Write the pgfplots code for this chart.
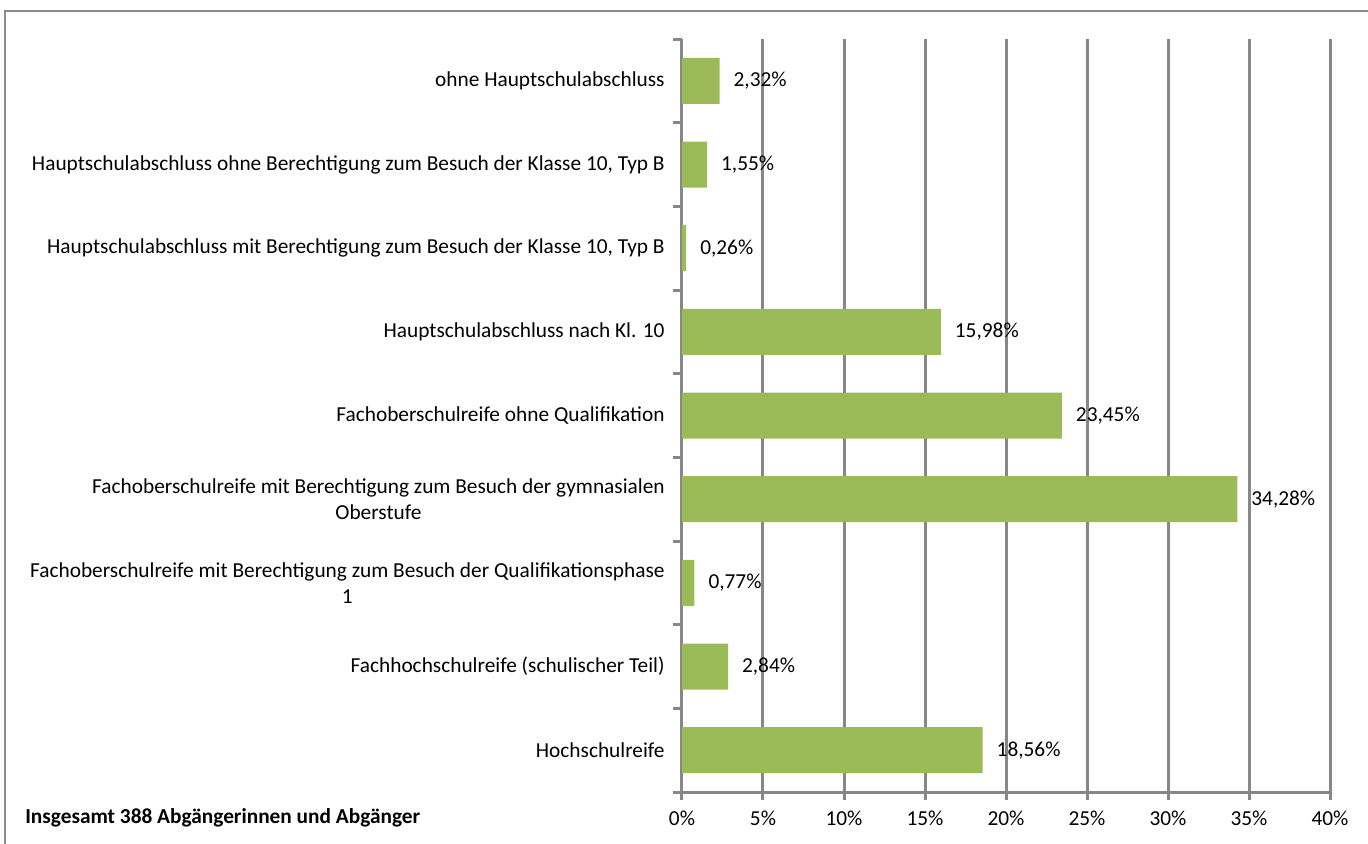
\documentclass[border=0pt]{standalone}
\usepackage{pgfplots}
\pgfplotsset{compat=1.18}
\usepackage{fontspec}
\setmainfont{Carlito}
\definecolor{bargreen}{HTML}{9BBB59}
\definecolor{gridgray}{HTML}{878787}
\definecolor{framegray}{HTML}{8C8C8C}
\newcommand{\lbl}{\fontsize{16}{19.5}\selectfont}
\begin{document}
\begin{tikzpicture}
\useasboundingbox (0,0) rectangle (1026pt,632.25pt);
\clip (0,0) rectangle (1026pt,632.25pt);
\draw[framegray, line width=1.1pt] (3.75pt,-20pt) -- (3.75pt,624pt) -- (1060pt,624pt);
\begin{axis}[
  at={(511.5pt,38.25pt)}, anchor=south west,
  scale only axis, width=486pt, height=564.75pt,
  xbar, bar width=34.5pt,
  xmin=0, xmax=40, ymin=-0.5, ymax=8.5,
  xtick={0,5,...,40},
  xticklabel={\pgfmathprintnumber{\tick}\%},
  /pgf/number format/assume math mode=true,
  ytick={0,...,8},
  yticklabels={Hochschulreife,
    Fachhochschulreife (schulischer Teil),
    {Fachoberschulreife mit Berechtigung zum Besuch der Qualifikationsphase\\1},
    {Fachoberschulreife mit Berechtigung zum Besuch der gymnasialen\\Oberstufe},
    Fachoberschulreife ohne Qualifikation,
    Hauptschulabschluss nach Kl. 10,
    {Hauptschulabschluss mit Berechtigung zum Besuch der Klasse 10, Typ B},
    {Hauptschulabschluss ohne Berechtigung zum Besuch der Klasse 10, Typ B},
    ohne Hauptschulabschluss},
  minor ytick={-0.5,0.5,...,8.5},
  axis x line*=bottom, axis y line*=left,
  axis line style={gridgray, line width=2.25pt},
  tick align=outside,
  major tick length=6pt, minor tick length=6.75pt,
  every tick/.style={gridgray, line width=2.25pt},
  major y tick style={draw=none},
  xmajorgrids,
  major x grid style={gridgray, line width=2.25pt},
  tick label style={font=\lbl},
  yticklabel style={align=center, xshift=-3.5pt},
  xticklabel style={yshift=-5pt},
  nodes near coords={\pgfmathprintnumber[fixed,fixed zerofill,precision=2,use comma]{\pgfplotspointmeta}\%},
  point meta=x,
  nodes near coords style={font=\lbl, anchor=west, xshift=7pt, text=black},
]
\addplot[fill=bargreen, draw=none] coordinates {
  (18.56,0) (2.84,1) (0.77,2) (34.28,3) (23.45,4)
  (15.98,5) (0.26,6) (1.55,7) (2.32,8)};
\end{axis}
\node[anchor=west, font=\lbl\bfseries, inner sep=0pt] at (18.75pt,18.75pt) {Insgesamt 388 Abgängerinnen und Abgänger};
\end{tikzpicture}
\end{document}
